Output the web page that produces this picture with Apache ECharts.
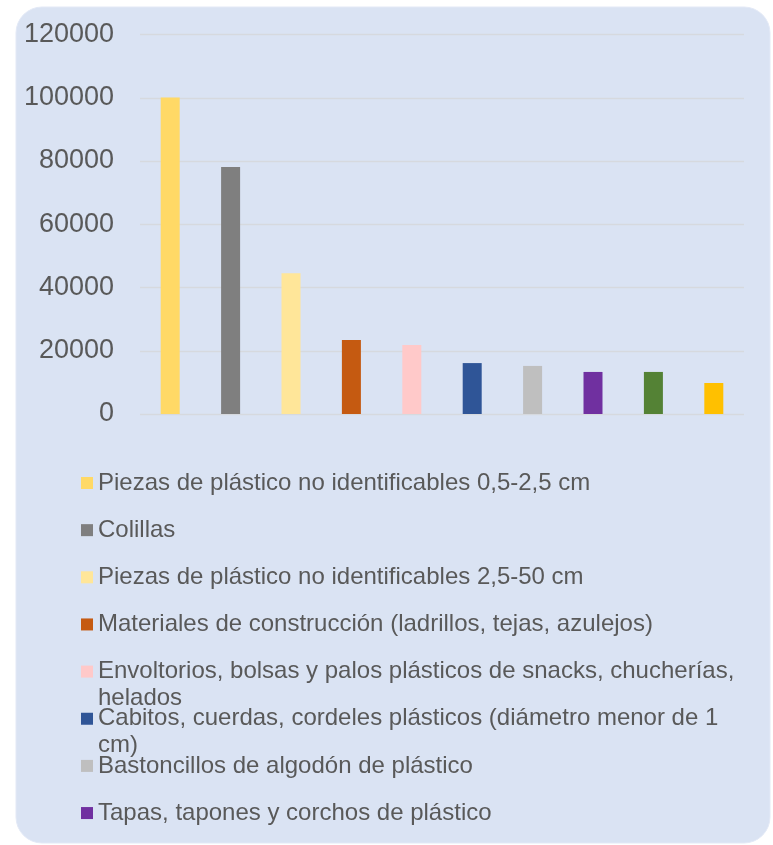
<!DOCTYPE html>
<html>
<head>
<meta charset="utf-8">
<script src="https://cdn.jsdelivr.net/npm/echarts@6/dist/echarts.min.js"></script>
<style>
  html, body { margin: 0; padding: 0; background: #ffffff; }
  #chart { width: 773px; height: 845px; }
</style>
</head>
<body>
<div id="chart"></div>
<script>
  // categorías y valores
  const categories = [
    'Piezas de plástico no identificables 0,5-2,5 cm',
    'Colillas',
    'Piezas de plástico no identificables 2,5-50 cm',
    'Materiales de construcción (ladrillos, tejas, azulejos)',
    'Envoltorios, bolsas y palos plásticos de snacks, chucherías, helados',
    'Cabitos, cuerdas, cordeles plásticos (diámetro menor de 1 cm)',
    'Bastoncillos de algodón de plástico',
    'Tapas, tapones y corchos de plástico',
    'Otros objetos de plástico',
    'Bolsas de plástico'
  ]
  const values = [100100, 78100, 44500, 23400, 21800, 16100, 15200, 13300, 13300, 9800]
  const colors = ['#ffd966', '#7f7f7f', '#ffe699', '#c55a11', '#ffc9c9', '#2f5597', '#bfbfbf', '#7030a0', '#548235', '#ffc000']
  const yTicks = [0, 20000, 40000, 60000, 80000, 100000, 120000]

  // solo caben 8 entradas en la leyenda
  const legendCount = 8
  const wrapped = [4, 5]

  const chart = echarts.init(document.getElementById('chart'))

  const fontFamily = '"Liberation Sans", Arial, sans-serif'
  const lineH = 27
  const legendStep = 47.15
  const firstCenter = 483

  // los textos largos bajan la última palabra a otra línea;
  // la línea vacía inicial deja la primera línea a la altura del icono
  const wrapLabel = name => '\n' + name.replace(/ (\S+)$/, '\n$1')

  const legends = categories.slice(0, legendCount).map((name, i) => {
    const isWrapped = wrapped.includes(i)
    const c = firstCenter + i * legendStep
    return {
      data: [name],
      orient: 'vertical',
      left: 81,
      top: c - (isWrapped ? lineH * 1.5 : lineH / 2),
      padding: 0,
      itemWidth: 12,
      itemHeight: 12,
      itemGap: 0,
      icon: 'rect',
      selectedMode: false,
      formatter: isWrapped ? wrapLabel : '{name}',
      textStyle: {
        color: '#595959',
        fontSize: 24,
        fontFamily,
        lineHeight: lineH
      }
    }
  })

  const series = categories.map((name, i) => ({
    name,
    type: 'bar',
    stack: 'total',
    barWidth: 19,
    itemStyle: { color: colors[i] },
    data: values.map((v, j) => (j === i ? v : '-'))
  }))

  const option = {
    animation: false,
    graphic: [
      {
        type: 'rect',
        z: -10,
        silent: true,
        shape: { x: 16, y: 7, width: 754, height: 836, r: 26 },
        style: { fill: '#dae3f3', stroke: '#e3e9f6', lineWidth: 1 }
      }
    ],
    legend: legends,
    grid: {
      left: 140,
      right: 29,
      top: 34.5,
      bottom: 431
    },
    xAxis: {
      type: 'category',
      data: categories,
      axisLine: { show: false },
      axisTick: { show: false },
      axisLabel: { show: false }
    },
    yAxis: {
      type: 'value',
      min: yTicks[0],
      max: yTicks[yTicks.length - 1],
      interval: yTicks[1] - yTicks[0],
      axisLine: { show: false },
      axisTick: { show: false },
      axisLabel: {
        color: '#595959',
        fontSize: 27,
        fontFamily,
        margin: 26,
        formatter: v => String(v)
      },
      splitLine: { lineStyle: { color: '#d6d9de', width: 1.3 } }
    },
    series
  }

  chart.setOption(option)
</script>
</body>
</html>
